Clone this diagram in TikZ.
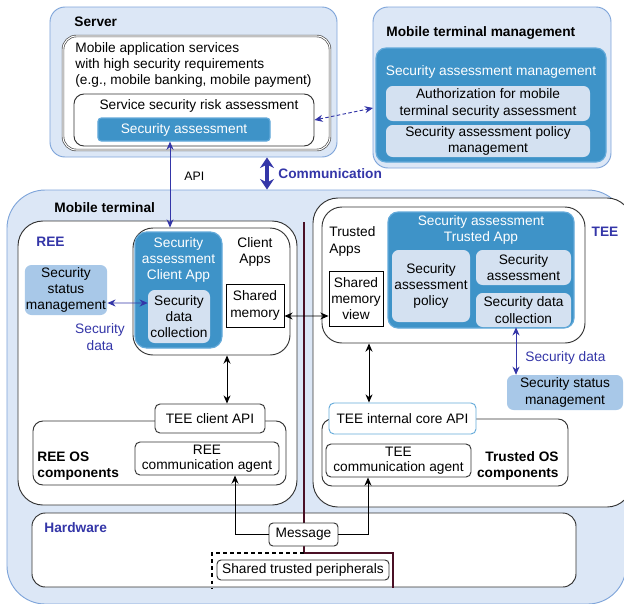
\documentclass[tikz,border=0pt]{standalone}
\usepackage{fontspec}
\setmainfont{Liberation Sans}
\usetikzlibrary{arrows.meta}
\definecolor{paleblue}{HTML}{DCE7F6}
\definecolor{rimblue}{HTML}{7FA5DA}
\definecolor{midblue}{HTML}{3E93C8}
\definecolor{edgeblue}{HTML}{64AADA}
\definecolor{softblue}{HTML}{D4E1F1}
\definecolor{statusblue}{HTML}{A8C8E8}
\definecolor{inkblue}{HTML}{3436A8}
\definecolor{wallred}{HTML}{4A1025}
\tikzset{
  every node/.style={font=\fontsize{11.7}{14}\selectfont, inner sep=1pt},
  area/.style={draw=rimblue, fill=paleblue, line width=0.8pt},
  box/.style={draw=black!80, fill=white, line width=0.8pt, rounded corners=0.25cm},
  bluebox/.style={draw=edgeblue, fill=midblue, line width=1pt, rounded corners=0.3cm, text=white, align=center},
  softbox/.style={fill=softblue, rounded corners=0.2cm, align=center},
  statusbox/.style={fill=statusblue, rounded corners=0.2cm, align=center},
  heading/.style={font=\fontsize{11.7}{14}\selectfont\bfseries},
  bi/.style={{Stealth[length=7pt,width=6pt]}-{Stealth[length=7pt,width=6pt]}, line width=0.8pt},
  bluebi/.style={bi, draw=inkblue, color=inkblue},
  commarrow/.style={{Stealth[length=9pt,width=12pt]}-{Stealth[length=9pt,width=12pt]}, line width=2.6pt, draw=inkblue, color=inkblue}
}
\begin{document}
\begin{tikzpicture}[x=0.03cm, y=-0.03cm]
\useasboundingbox (0,0) rectangle (624,603);
\clip (0,0) rectangle (624,603);
\node (server) at (193.5,82) [area, rounded corners=0.45cm, minimum width=8.61cm, minimum height=4.5cm] {};
\node (servertitle) at (73,22) [anchor=west, heading] {Server};
\node (mobsvc) at (196.5,93) [box, draw=black!70, double=white, double distance=0.9pt, line width=0.6pt, rounded corners=0.4cm, minimum width=8.01cm, minimum height=3.42cm] {};
\node (mobsvctext) at (74,65) [anchor=west, align=left] {Mobile application services\\with high security requirements\\(e.g., mobile banking, mobile payment)};
\node (riskbox) at (194,120) [box, rounded corners=0.3cm, minimum width=7.2cm, minimum height=1.56cm] {};
\node (risktext) at (199,106) {Service security risk assessment};
\node (secassess) at (184,129.5) [bluebox, rounded corners=0.1cm, minimum width=5.16cm, minimum height=0.69cm] {Security assessment};
\node (mtm) at (492,87.5) [area, rounded corners=0.45cm, minimum width=7.14cm, minimum height=4.83cm] {};
\node (mtmtitle) at (385,33) [anchor=west, heading] {Mobile terminal management};
\node (sam) at (491,105) [bluebox, minimum width=6.9cm, minimum height=3.42cm] {};
\node (samtext) at (491,72) [text=white] {Security assessment management};
\node (auth) at (488,103.5) [softbox, minimum width=6.12cm, minimum height=1.05cm] {Authorization for mobile\\terminal security assessment};
\node (policymgmt) at (488,141) [softbox, minimum width=6.12cm, minimum height=0.96cm] {Security assessment policy\\management};
\coordinate (mtmin) at (373,108);
\draw[bluebi, dash pattern=on 3pt off 2pt] (riskbox.east) -- (mtmin);
\node (mobterm) at (316.5,397) [area, rounded corners=1.15cm, minimum width=18.57cm, minimum height=12.42cm] {};
\node (mobtermtitle) at (53,208) [anchor=west, heading] {Mobile terminal};
\draw[commarrow] (server.south -| 267,0) -- (mobterm.north -| 267,0);
\node (comm) at (277,174) [anchor=west, heading, text=inkblue] {Communication};
\node (api) at (183,176) [anchor=west, font=\fontsize{10.5}{12}\selectfont] {API};
\node (ree) at (157.5,363) [box, rounded corners=0.75cm, minimum width=8.37cm, minimum height=8.52cm] {};
\node (reetitle) at (35,242) [anchor=west, heading, text=inkblue] {REE};
\node (clientapps) at (211.5,291.5) [box, rounded corners=0.6cm, minimum width=4.71cm, minimum height=3.81cm] {};
\node (clientappstext) at (255,252) [align=center] {Client\\Apps};
\node (saca) at (178.5,290) [bluebox, rounded corners=0.35cm, minimum width=2.61cm, minimum height=3.48cm] {};
\node (sacatext) at (178.5,260) [align=center, text=white] {Security\\assessment\\Client App};
\node (sdcree) at (179,316.5) [softbox, minimum width=1.86cm, minimum height=1.59cm] {Security\\data\\collection};
\node (sharedmem) at (255,305.5) [draw, fill=white, line width=0.8pt, minimum width=1.74cm, minimum height=1.29cm, align=center] {Shared\\memory};
\node (ssmleft) at (66,290) [statusbox, minimum width=2.46cm, minimum height=1.5cm] {Security\\status\\management};
\draw[bluebi] ([yshift=-0.39cm]ssmleft.east) -- ([yshift=0.405cm]sdcree.west);
\node (reedata) at (100,337) [align=center, text=inkblue] {Security\\data};
\draw[bluebi] (secassess.south -| 170,0) -- (clientapps.north -| 170,0);
\node (tee) at (472.5,352.5) [box, rounded corners=0.75cm, minimum width=9.57cm, minimum height=9.27cm] {};
\node (teetitle) at (605,232) [heading, text=inkblue] {TEE};
\node (trustedapps) at (453.5,275) [box, rounded corners=0.6cm, minimum width=7.89cm, minimum height=4.08cm] {};
\node (trustedappstext) at (328,241.5) [anchor=west, align=left] {Trusted\\Apps};
\node (smview) at (356,298.5) [draw, fill=white, line width=0.8pt, minimum width=1.62cm, minimum height=1.65cm, align=center] {Shared\\memory\\view};
\node (sata) at (481,270) [bluebox, minimum width=5.58cm, minimum height=3.48cm] {};
\node (satatext) at (481,230) [align=center, text=white] {Security assessment\\Trusted App};
\node (sapolicy) at (431,286) [softbox, minimum width=2.34cm, minimum height=2.16cm] {Security\\assessment\\policy};
\node (satee) at (523.5,267.5) [softbox, minimum width=2.85cm, minimum height=1.05cm] {Security\\assessment};
\node (sdctee) at (523.5,310) [softbox, minimum width=2.85cm, minimum height=1.02cm] {Security data\\collection};
\node (ssmright) at (565,392.5) [statusbox, minimum width=3.48cm, minimum height=1.05cm] {Security status\\management};
\draw[bluebi] (sdctee.south -| 516,0) -- (ssmright.north -| 516,0);
\node (teedata) at (524,358) [anchor=west, text=inkblue] {Security data};
\node (reeos) at (159.5,453) [box, rounded corners=0.3cm, minimum width=7.59cm, minimum height=1.92cm] {};
\node (reeostext) at (36,466) [anchor=west, align=left, heading] {REE OS\\components};
\node (teeclientapi) at (210,418.5) [box, rounded corners=0.15cm, minimum width=3.3cm, minimum height=0.87cm] {TEE client API};
\node (reeagent) at (207,458.5) [box, rounded corners=0.15cm, minimum width=4.32cm, minimum height=0.99cm, align=center, font=\fontsize{11.7}{13}\selectfont] {REE\\communication agent};
\node (trustedos) at (445,452.5) [box, rounded corners=0.3cm, minimum width=7.38cm, minimum height=2.01cm] {};
\node (trustedostext) at (560,466) [anchor=east, align=right, heading] {Trusted OS\\components};
\node (teecore) at (402.5,418.5) [box, draw=edgeblue, rounded corners=0.15cm, minimum width=4.41cm, minimum height=0.93cm] {TEE internal core API};
\node (teeagent) at (398.5,460.5) [box, rounded corners=0.15cm, minimum width=4.35cm, minimum height=0.99cm, align=center, font=\fontsize{11.7}{13}\selectfont] {TEE\\communication agent};
\draw[bi] (clientapps.south -| 227,0) -- (teeclientapi.north -| 227,0);
\draw[bi] (trustedapps.south -| 369,0) -- (teecore.north -| 369,0);
\node (hardware) at (304,550) [box, rounded corners=0.4cm, minimum width=16.32cm, minimum height=2.22cm] {};
\node (hardwaretitle) at (43,528) [anchor=west, heading, text=inkblue] {Hardware};
\draw[wallred, line width=1.2pt] (304,222) -- (304,553) -- (393,553) -- (393,588);
\draw[dashed, line width=0.9pt] (304,553) -- (212,553) -- (212,588);
\draw[bi] ([yshift=-0.315cm]sharedmem.east) -- ([yshift=-0.525cm]smview.west);
\node (message) at (303.5,534.5) [box, rounded corners=0.12cm, minimum width=2.07cm, minimum height=0.69cm] {Message};
\node (peripherals) at (303,570) [box, rounded corners=0.12cm, minimum width=5.16cm, minimum height=0.6cm] {Shared trusted peripherals};
\draw[-{Stealth[length=7pt,width=6pt]}, line width=0.8pt] (message.west) -| (reeagent.south -| 235,0);
\draw[-{Stealth[length=7pt,width=6pt]}, line width=0.8pt] (message.east) -| (teeagent.south -| 368,0);
\end{tikzpicture}
\end{document}
